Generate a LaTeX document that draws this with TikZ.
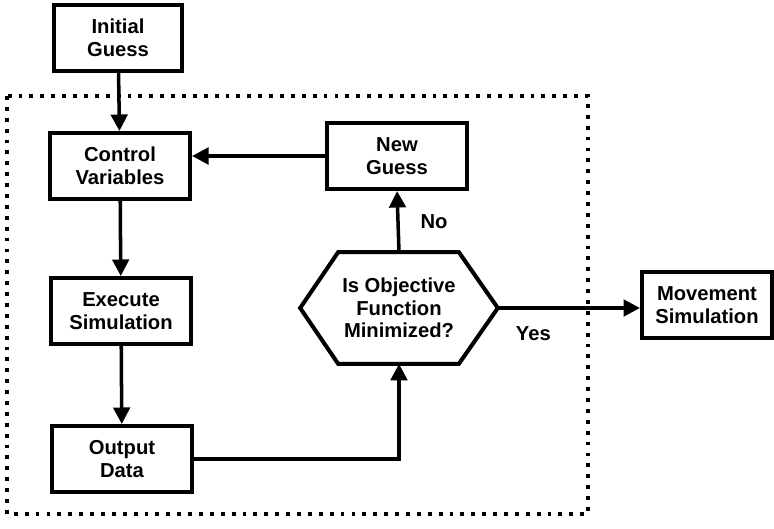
\documentclass[tikz,border=0pt]{standalone}
\usepackage{fontspec}
\setmainfont{Liberation Sans}
\usepackage{tikz}
\usetikzlibrary{positioning}
\usetikzlibrary{arrows.meta}

\begin{document}
\begin{tikzpicture}[
            x = 0.02cm,
            y = -0.02cm,
            box/.style = {
                draw,
                rectangle,
                line width = 2.3pt,
                minimum width = #1,
                minimum height = 1.32cm,
                align = center,
                inner sep = 0pt,
                font = \fontsize{11.5}{12.8}\selectfont\bfseries
            },
            box/.default = 2.8cm,
            decision/.style = {
                minimum width = 3.94cm,
                minimum height = 2.22cm,
                align = center,
                inner sep = 0pt,
                font = \fontsize{11.5}{12.8}\selectfont\bfseries
            },
            flow/.style = {
                line width = 2pt,
                -{Triangle[length=0.33cm, width=0.33cm]}
            },
            tag/.style = {
                font = \fontsize{11.5}{12.8}\selectfont\bfseries
            },
            loopframe/.style = {
                line width = 2.2pt,
                dash pattern = on 2.2pt off 4pt
            }
            ]
            \useasboundingbox (0,0) rectangle (774,528);

            % optimisation loop
            \draw[loopframe] (7,96) rectangle (588,514);

            \node[box=2.55cm] (init) at (118,38) {Initial\\Guess};
            \node[box] (ctrl) at (120,166) {Control\\Variables};
            \node[box] (exec) at (121,311) {Execute\\Simulation};
            \node[box] (out) at (122,459) {Output\\Data};
            \node[box] (guess) at (397,156) {New\\Guess};
            \node[decision] (obj) at (399,308) {Is Objective\\Function\\Minimized?};
            \node[box=2.6cm] (move) at (707,305) {Movement\\Simulation};

            % hexagon round the test
            \draw[line width = 2.3pt, line join = miter]
                ([xshift=0.76cm]obj.north west) -- ([xshift=-0.78cm]obj.north east)
                -- (obj.east) -- ([xshift=-0.78cm]obj.south east)
                -- ([xshift=0.76cm]obj.south west) -- (obj.west) -- cycle;

            \draw[flow] (init) -- (ctrl);
            \draw[flow] (ctrl) -- (exec);
            \draw[flow] (exec) -- (out);
            \draw[flow] (out.east) -| (obj.south);
            \draw[flow] (obj.north) -- node[tag, right=0.3cm] {No} (guess.south);
            \draw[flow] (guess.west) -- (guess.west -| ctrl.east);
            \draw[flow] (obj.east) -- node[tag, below=0.22cm, pos=0.25] {Yes} (obj.east -| move.west);
        \end{tikzpicture}
\end{document}
